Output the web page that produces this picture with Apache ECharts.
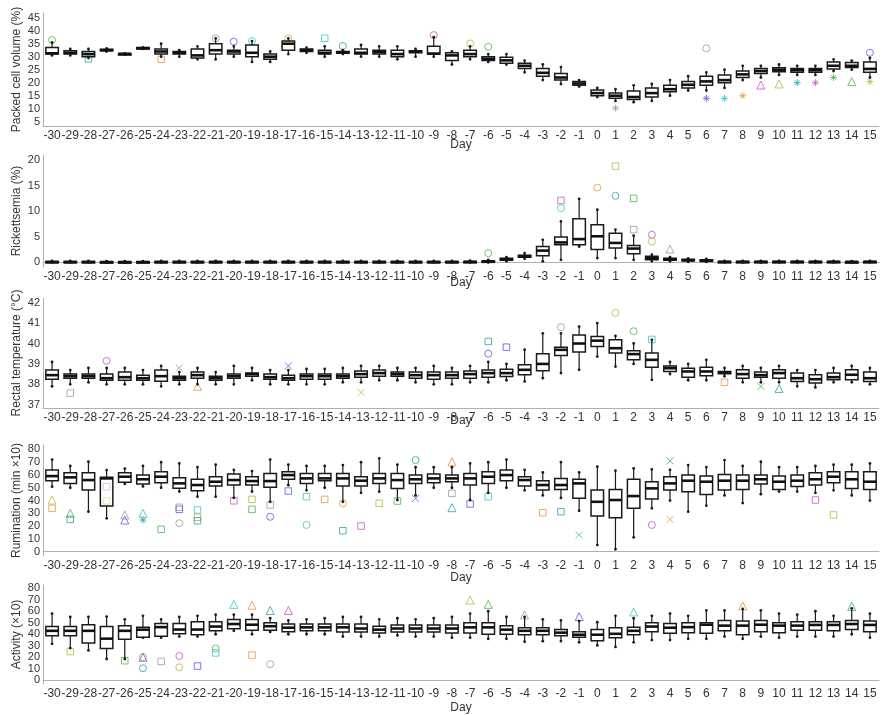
<!DOCTYPE html>
<html><head><meta charset="utf-8">
<script src="https://cdn.jsdelivr.net/npm/echarts@6/dist/echarts.min.js"></script>
<style>html,body{margin:0;padding:0;background:#fff}#c{width:886px;height:715px}</style>
</head><body><div id="c"></div>
<script>
// ---------- data ----------
const days = [];
for (let d = -30; d <= 15; d++) days.push(String(d));

// [lower whisker, Q1, median, Q3, upper whisker] per day (-30 .. 15)
const pcvBox = [
[30.5,31,31.3,33.5,35.5],[30.5,31,31.5,32.3,33],[29.5,30,31,32,33],[32,32.3,32.5,32.9,33.2],[30.8,31,31.1,31.2,31.3],
[33,33.1,33.3,33.5,33.6],[30,31,32,33,35],[30,31,31.5,32,32.5],[29,29.5,30.5,33,34],[29,31,32.5,35,37],
[30,31,32,32.5,34],[28,30,31.5,34.5,36],[28,29,30,31,32],[31,32.5,35,36,37],[31.5,32,32.5,33,33.5],
[30,31,31.5,32.5,34],[31,31.3,31.7,32,32.5],[30,31,31.5,33,34.5],[30,31,31.8,32.5,34],[29,30,31,32.5,34],
[30,31.5,32,32.3,33],[30,31,31.2,34,37.5],[27,28.5,30.5,31.5,32],[29,30,31,32.5,34],[28,28.5,29.2,30,31],
[27,27.5,28.6,29.8,31],[24,25.5,26.5,27.5,28.5],[21,22.5,23.8,25.5,27],[19.5,21,22,23.5,26],[18.5,19,19.7,20.5,21],
[14.5,15,16,17.2,18],[13,14,15,16,17.5],[12.5,13.5,14.5,16.8,19],[13,14.5,16,18,19.5],[15,16.5,17.5,19,21],
[17,18,19.2,20.5,22.5],[17,19,20.5,22.5,24],[18,20,21,23,25],[21,22,23.2,24.5,26.5],[22,23.5,24.5,25.5,26.5],
[23,24.2,25,25.7,27],[23,24,24.8,25.5,26.5],[23,24,24.8,25.5,26.5],[24.5,25.3,26.5,28,29],[25,25.8,26.5,27.8,28.5],
[22,24,25.3,28,29.5]];

const ricBox = [
[0,0,0.05,0.2,0.3],[0,0,0.05,0.2,0.3],[0,0,0.05,0.2,0.3],[0,0,0.05,0.15,0.25],[0,0,0.05,0.15,0.25],
[0,0,0.05,0.15,0.25],[0,0,0.05,0.2,0.3],[0,0,0.05,0.2,0.3],[0,0,0.05,0.2,0.3],[0,0,0.05,0.2,0.3],
[0,0,0.05,0.2,0.3],[0,0,0.05,0.2,0.3],[0,0,0.05,0.2,0.3],[0,0,0.05,0.2,0.3],[0,0,0.05,0.2,0.3],
[0,0,0.05,0.2,0.3],[0,0,0.05,0.2,0.3],[0,0,0.05,0.2,0.3],[0,0,0.05,0.2,0.3],[0,0,0.05,0.2,0.3],
[0,0,0.05,0.2,0.3],[0,0,0.05,0.2,0.3],[0,0,0.05,0.2,0.3],[0,0,0.1,0.2,0.35],[0,0.1,0.2,0.3,0.5],
[0.2,0.4,0.6,0.8,1.0],[0.7,1.0,1.2,1.4,1.8],[0.2,1.3,2.3,3.1,4.4],[0.5,3.45,3.9,4.95,8],[3.1,3.45,4.55,8.5,12.4],
[0.85,2.5,5.1,7.35,10.3],[0.85,2.8,3.8,5.7,6.4],[0.5,1.7,2.7,3.3,5.2],[0.2,0.5,0.8,1.2,1.5],[0.2,0.4,0.6,0.8,1.0],
[0.1,0.3,0.4,0.6,0.8],[0.1,0.2,0.3,0.5,0.7],[0,0.05,0.1,0.2,0.3],[0,0.05,0.1,0.2,0.3],[0,0.05,0.1,0.2,0.3],
[0,0.05,0.1,0.2,0.3],[0,0.05,0.1,0.2,0.3],[0,0.05,0.1,0.2,0.3],[0,0.05,0.1,0.2,0.3],[0,0.05,0.1,0.15,0.25],
[0,0.05,0.1,0.2,0.3]];

const tempBox = [
[37.9,38.25,38.45,38.7,39.1],[38.0,38.3,38.4,38.5,38.7],[38.1,38.3,38.4,38.5,38.8],[38.0,38.2,38.3,38.5,38.8],[38.0,38.2,38.35,38.6,38.8],
[38.0,38.2,38.3,38.45,38.7],[37.9,38.15,38.4,38.7,38.9],[38.0,38.2,38.3,38.4,38.6],[38.0,38.3,38.45,38.6,38.8],[38.0,38.2,38.3,38.4,38.6],
[38.0,38.3,38.4,38.5,38.9],[38.2,38.4,38.5,38.55,38.8],[38.0,38.25,38.35,38.5,38.7],[38.0,38.2,38.3,38.45,38.7],[38.0,38.25,38.4,38.5,38.75],
[38.0,38.25,38.4,38.5,38.75],[38.1,38.3,38.4,38.5,38.8],[38.1,38.35,38.5,38.65,38.9],[38.2,38.4,38.55,38.7,38.9],[38.2,38.4,38.5,38.6,38.8],
[38.1,38.3,38.45,38.6,38.8],[38.0,38.25,38.45,38.6,38.9],[38.0,38.3,38.45,38.6,38.8],[38.1,38.3,38.5,38.65,38.9],[38.1,38.35,38.55,38.7,39.1],
[38.2,38.38,38.55,38.74,39.0],[38.14,38.47,38.71,38.96,39.7],[38.3,38.66,39.0,39.5,40.5],[38.55,39.41,39.69,39.82,40.5],[38.71,39.58,40.0,40.42,40.83],
[39.36,39.85,40.14,40.34,41.0],[38.87,39.53,39.77,40.18,40.37],[39.0,39.2,39.48,39.65,40.0],[38.22,38.84,39.2,39.53,40.18],[38.5,38.63,38.79,38.9,39.1],
[38.2,38.35,38.63,38.79,39.0],[38.2,38.42,38.63,38.84,39.2],[38.4,38.52,38.58,38.63,38.8],[38.1,38.3,38.5,38.71,38.9],[38.1,38.35,38.45,38.6,38.8],
[38.1,38.3,38.55,38.71,38.9],[37.9,38.14,38.3,38.55,38.7],[37.85,38.06,38.25,38.47,38.7],[38.1,38.22,38.35,38.55,38.8],[38.1,38.22,38.47,38.71,38.9],
[38.0,38.14,38.3,38.6,38.8]];

const rumBox = [
[50.8,55.5,59.1,63.8,72],[50,53.4,58.1,61.7,67],[31.3,48.2,56,61.7,70.3],[26.1,35.7,57.3,58.1,63.8],[53,54.2,58.6,61.7,65],
[51,52.9,56.6,59.9,67],[50,53.9,58.6,62.5,70],[47,49.5,53.4,57.8,69],[43,47.7,52.1,56.6,66],[43,51.3,54.7,58.6,68],
[42,52.1,56,60.7,64],[47,52.1,55.2,58.6,63],[39,50.3,55.2,61.2,72],[52,56.6,59.9,62.5,68],[48,53.4,57.3,61.2,67],
[50,55.5,57.3,61.2,67],[39,51.3,57.3,61.2,67.7],[46,51.3,55.5,58.6,70],[46.9,53.4,57.3,61.2,73],[40.4,49.4,56,61.2,68],
[44,53.4,56.6,59.9,66],[50,53.9,57.3,60.7,66],[50,54.7,57.3,59.9,66],[40.4,52.1,57.3,61.2,69],[46,53.4,58.6,62.5,70],
[50,55.5,59.9,63.8,72],[48,51.3,56,58.6,64],[44,48.2,52.1,55.5,62],[42,48.7,52.1,57.3,70],[32,41.7,53.4,56.6,62],
[5.2,27.9,39,48.2,66.4],[1.9,26.6,40.4,48.7,63.3],[11.2,33.9,43.5,56.6,65.1],[33.9,41.2,49.5,54.7,64.4],[40,48.2,53.4,58.6,64],
[31.3,46.9,55.5,59.9,67.7],[36,44.8,54.7,59.1,66],[44,48.2,55.5,60.4,71.6],[38,48.7,55.5,59.9,67],[45,52.9,56.6,59.9,70.3],
[47,48.7,54.7,59.1,66],[47,51,55.5,59.9,66],[46,52.1,56.6,61.7,67],[48,53.9,58.6,62.5,68],[44,49.4,56.6,62.5,68],
[40,48.7,54.7,62.5,69]];

const actBox = [
[31.7,38.8,43,46.7,58],[28,38.8,43,46.7,55],[26,32.5,43,48.3,55],[18.5,27.7,36.2,46.7,55.4],[18.5,35.6,43,47.5,53],
[37,37.5,44,46.2,56],[37,38.3,46.2,49.4,53],[38,40.4,44.1,49.4,55],[38,39.6,44.1,50.9,56],[40,43,46.7,50.9,57],
[43,44.9,48.9,52.8,57],[40,43.6,48.3,52.8,57],[42,43.6,47,50.1,54],[40,42.2,45.7,48.9,52],[40,43,46,49,53],
[40,43,46,49,54],[38,42,46,49,55],[38,42,45,49,55],[38,41,44,47,53],[39,42,45,48,54],
[38,42,45,48,53],[38,42,45,48,54],[37,41,45,48,55],[37,41,46,50,58],[36,40,46,50,60],
[36,40,44,47.5,55],[33.5,39.6,43,45.7,55],[34,39.6,43,45.7,53],[34,38.8,41.4,44.1,52],[33,37.5,39.6,42.2,51.5],
[30.3,34.3,39.6,44.1,50.5],[29,37,40.4,45.7,56],[33,39.6,43,46.2,54],[35,42.2,46.7,50.1,56],[35,40.9,45.7,49.4,58],
[36,41.4,46.2,50.1,56],[36,40.9,48.3,50.1,60.7],[38,43,47.5,52,60.7],[36,39.6,47.5,51.5,62],[38,42.2,48.3,52,60.7],
[37,41.4,47.5,50.1,58],[38,43.6,47.5,50.9,57],[38,43.6,48.1,50.9,60],[38,43,48.1,50.9,56],[40,44.1,48.9,52,62.5],
[37,42.2,48.1,51.5,58]];

// individual values lying apart from the boxes: [day, value]
const pcvCircles = [['-30',36.4],['-21',37],['-20',35.8],['-19',36],['-17',37],['-14',34.1],['-9',38.3],['-7',35.1],['-6',33.8],['6',33.2],['15',31.5]];
const pcvSquares = [['-15',37.1],['-24',29],['-28',29.2]];
const pcvStars = [['1',10.2],['6',14],['7',14],['8',15],['11',20],['12',20],['15',20.4],['13',22]];
const pcvTriangles = [['9',19.1],['10',19.5],['14',20.4]];

const ricCircles = [['-2',10.6],['0',14.6],['1',13],['3',5.4],['3',4.1],['-6',1.8]];
const ricSquares = [['-2',12.1],['1',18.8],['2',12.5],['2',6.4]];
const ricTriangles = [['4',2.6]];

const tempCircles = [['-27',39.15],['1',41.5],['2',40.6],['-2',40.8],['-6',39.5]];
const tempSquares = [['-29',37.57],['-5',39.82],['3',40.2],['7',38.1],['-6',40.1]];
const tempTriangles = [['-22',37.9],['10',37.8]];
const tempCrosses = [['-13',37.6],['9',37.9],['-23',38.8],['-17',38.9]];

const rumCircles = [['-23',22.2],['-18',27.3],['-16',20.9],['-14',37.8],['-10',71.6],['3',20.9]];
const rumSquares = [['-30',33.9],['-29',25.3],['-27',50.8],['-27',39.8],['-24',17.5],['-23',34.7],['-23',33.1],['-22',32.6],['-22',26.9],['-22',24.2],
  ['-20',39.8],['-19',40.9],['-19',33.1],['-18',36.5],['-17',47.4],['-16',43],['-15',40.9],['-14',16.4],['-13',20.1],['-12',37.8],
  ['-11',39.6],['-8',45.6],['-7',37.3],['-6',43],['-3',30.5],['-2',31.3],['12',40.4],['13',28.7]];
const rumTriangles = [['-30',40.4],['-29',30],['-26',28.7],['-26',24.8],['-25',30],['-8',70.3],['-8',34.4]];
const rumCrosses = [['-10',41.7],['-1',13],['4',25.3],['4',71]];
const rumStars = [['-25',24.8]];

const actCircles = [['-25',20.3],['-25',10.5],['-23',21.1],['-23',11.3],['-21',27.7],['-18',14]];
const actSquares = [['-29',25],['-26',17],['-24',16.4],['-22',12.4],['-21',23.8],['-19',21.9]];
const actTriangles = [['-25',20],['-20',66],['-19',65.2],['-18',60.7],['-17',60.7],['-7',69.7],['-6',66],['-4',56.8],['-1',55.4],['2',59.4],['8',64.7],['14',64.2]];

// ---------- chart ----------
const panels = [
  {name:'Packed cell volume (%)', box:pcvBox, top:13, height:113, min:3.35, max:46.8, ticks:[5,10,15,20,25,30,35,40,45], dayGap:13,
   pts:{circle:pcvCircles, rect:pcvSquares, triangle:pcvTriangles, star:pcvStars}},
  {name:'Rickettsemia (%)', box:ricBox, top:155, height:112, min:-0.9, max:20.97, ticks:[0,5,10,15,20], dayGap:10,
   pts:{circle:ricCircles, rect:ricSquares, triangle:ricTriangles}},
  {name:'Rectal temperature (°C)', box:tempBox, top:298, height:110, min:36.84, max:42.23, ticks:[37,38,39,40,41,42], dayGap:7,
   pts:{circle:tempCircles, rect:tempSquares, triangle:tempTriangles, cross:tempCrosses}},
  {name:'Rumination (min ×10)', box:rumBox, top:445, height:111, min:-3.36, max:83.4, ticks:[0,10,20,30,40,50,60,70,80], dayGap:16,
   pts:{circle:rumCircles, rect:rumSquares, triangle:rumTriangles, cross:rumCrosses, star:rumStars}},
  {name:'Activity (×10)', box:actBox, top:585, height:109, min:-3.2, max:82.8, ticks:[0,10,20,30,40,50,60,70,80], dayGap:18,
   pts:{circle:actCircles, rect:actSquares, triangle:actTriangles}}
];

const palette = ['#4cb84c','#38c4c4','#c455c4','#9a9a9a','#e09a3a','#b8b840','#5a5ae8','#2aa0a0'];
const symbolPath = {
  circle:'circle', rect:'rect', triangle:'triangle',
  cross:'path://M0,0L10,10M10,0L0,10',
  star:'path://M5,0L5,10M0,5L10,5M1.5,1.5L8.5,8.5M8.5,1.5L1.5,8.5'
};
const font = 'Liberation Sans, Arial, sans-serif';

const grids=[], xAxes=[], yAxes=[], series=[];
panels.forEach((p, k) => {
  grids.push({left:43, right:7, top:p.top, height:p.height});
  xAxes.push({type:'category', gridIndex:k, data:days, boundaryGap:true,
    axisLine:{lineStyle:{color:'#b0b0b0', width:1}}, axisTick:{show:false},
    axisLabel:{interval:0, color:'#333', fontSize:12, fontFamily:font, margin:4, hideOverlap:false},
    name:'Day', nameLocation:'middle', nameGap:p.dayGap, nameMoveOverlap:false,
    nameTextStyle:{color:'#333', fontSize:12, fontFamily:font, verticalAlign:'top'}});
  yAxes.push({type:'value', gridIndex:k, min:p.min, max:p.max,
    axisLine:{show:true, lineStyle:{color:'#b0b0b0', width:1}}, axisTick:{show:false}, splitLine:{show:false},
    axisLabel:{customValues:p.ticks, showMinLabel:true, showMaxLabel:true, hideOverlap:false,
      color:'#333', fontSize:11, lineHeight:10, fontFamily:font, margin:3},
    name:p.name, nameLocation:'middle', nameGap:20, nameRotate:90, nameMoveOverlap:false,
    nameTextStyle:{color:'#333', fontSize:12, fontFamily:font}});
  Object.keys(p.pts).forEach((sym, j) => {
    const isLine = sym==='cross' || sym==='star';
    series.push({type:'scatter', xAxisIndex:k, yAxisIndex:k, symbol:symbolPath[sym],
      symbolSize: sym==='rect'?6.5:(sym==='triangle'?8:7), z:2,
      data:p.pts[sym].map((v,i)=>{
        const c = palette[(i*3 + j + k) % palette.length];
        return {value:v, itemStyle: isLine
          ? {color:c, borderColor:c, borderWidth:1}
          : {color:'rgba(255,255,255,0)', borderColor:c, borderWidth:1}};
      })});
  });
  series.push({type:'custom', xAxisIndex:k, yAxisIndex:k, z:5,
    data:p.box.map((b,i)=>[i].concat(b)),
    encode:{x:0, y:[1,2,3,4,5]},
    renderItem:(params, api)=>{
      const i = api.value(0);
      const lo = api.coord([i, api.value(1)]), q1 = api.coord([i, api.value(2)]),
            md = api.coord([i, api.value(3)]), q3 = api.coord([i, api.value(4)]),
            hi = api.coord([i, api.value(5)]);
      const x = lo[0], w = 12.5;
      const st = {stroke:'#1a1a1a', lineWidth:1.2, fill:null};
      return {type:'group', children:[
        {type:'line', shape:{x1:x, y1:hi[1], x2:x, y2:q3[1]}, style:st},
        {type:'line', shape:{x1:x, y1:q1[1], x2:x, y2:lo[1]}, style:st},
        {type:'circle', shape:{cx:x, cy:hi[1], r:1.4}, style:{fill:'#1a1a1a'}},
        {type:'circle', shape:{cx:x, cy:lo[1], r:1.4}, style:{fill:'#1a1a1a'}},
        {type:'rect', shape:{x:x-w/2, y:q3[1], width:w, height:Math.max(q1[1]-q3[1],1.5)},
          style:{stroke:'#1a1a1a', lineWidth:1.5, fill:'rgba(255,255,255,0.55)'}},
        {type:'line', shape:{x1:x-w/2, y1:md[1], x2:x+w/2, y2:md[1]}, style:{stroke:'#111', lineWidth:2.6}}
      ]};
    }});
});

const chart = echarts.init(document.getElementById('c'), null, {renderer:'canvas'});
chart.setOption({animation:false, backgroundColor:'#fff', grid:grids, xAxis:xAxes, yAxis:yAxes, series:series});
</script></body></html>
